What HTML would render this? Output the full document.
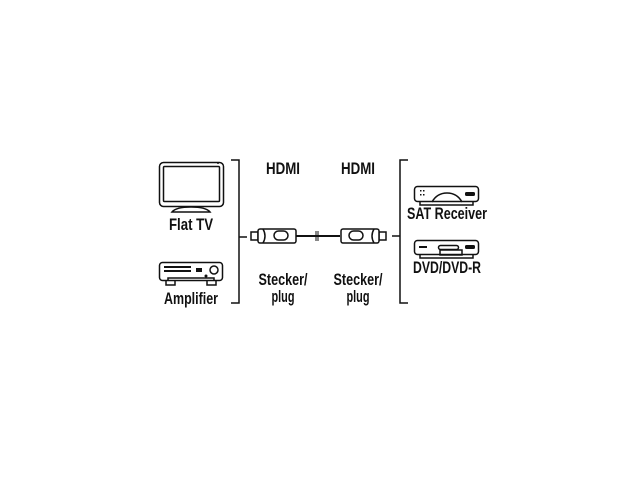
<!DOCTYPE html>
<html><head><style>
html,body{margin:0;padding:0;background:#fff;width:640px;height:480px;overflow:hidden}
text{font-family:"Liberation Sans Narrow","Liberation Sans",sans-serif;font-weight:bold;font-size:17px;fill:#111;text-anchor:middle}
</style></head><body>
<svg width="640" height="480" viewBox="0 0 640 480" xmlns="http://www.w3.org/2000/svg">
<g fill="none" stroke="#111" stroke-width="1.5">
<path d="M231 160 H239 V303 H231 M239 237 H247"/>
<path d="M408 160 H400 V303 H408 M400 236 H392"/>
<rect x="159.5" y="162.5" width="64" height="44" rx="4"/>
<rect x="163.5" y="166.5" width="56" height="35" rx="1"/>
<path d="M172 212 Q176 207 191 207 Q206 207 210 212 Z" fill="#fff"/>
<rect x="159.5" y="262.5" width="63" height="18" rx="3"/>
<path d="M166 281 V285 H175 V281 M207 281 V285 H216 V281"/>
<path d="M168 281 V278 H214 V281"/>
<circle cx="214" cy="270" r="4"/>
<rect x="414.5" y="186.5" width="64" height="15" rx="3"/>
<path d="M420 202 V205 H473 V202"/>
<path d="M432 202 Q437 193 447 193 Q457 193 462 202"/>
<rect x="414.5" y="240.5" width="64" height="14" rx="3"/>
<path d="M420 255 V258 H473 V255"/>
<rect x="438.5" y="245.5" width="20" height="4" rx="2"/>
<rect x="440" y="250" width="22" height="5"/>
</g>
<g fill="#111">
<rect x="196" y="268" width="6" height="4"/>
<circle cx="206" cy="276" r="1.5"/>
<rect x="164" y="266" width="27" height="2"/>
<rect x="164" y="270" width="27" height="2"/>
<rect x="465" y="192" width="10" height="4" rx="1.5"/>
<rect x="420" y="190" width="1.5" height="1.5"/><rect x="423" y="190" width="1.5" height="1.5"/>
<rect x="420" y="194" width="1.5" height="1.5"/><rect x="423" y="194" width="1.5" height="1.5"/>
<rect x="465" y="245" width="10" height="4" rx="1.5"/>
<rect x="419" y="246" width="8" height="2"/>
<circle cx="218" cy="163" r="1"/>
</g>
<g stroke="#111" stroke-width="1.5" fill="#fff">
<line x1="296" y1="236" x2="340" y2="236" stroke-width="2"/>
<line x1="316" y1="231" x2="316" y2="241" stroke-width="1"/>
<line x1="318" y1="231" x2="318" y2="241" stroke-width="1"/>
<rect x="251" y="232" width="7" height="8"/>
<rect x="258" y="229" width="38" height="14" rx="2"/>
<rect x="274" y="231" width="14" height="9" rx="4.5"/>
<path d="M263 229 Q267 236 263 243" fill="none"/>
<rect x="379" y="232" width="7" height="8"/>
<rect x="341" y="229" width="38" height="14" rx="2"/>
<rect x="349" y="231" width="14" height="9" rx="4.5"/>
<path d="M374 229 Q370 236 374 243" fill="none"/>
</g>
<text x="283" y="174" textLength="34" lengthAdjust="spacingAndGlyphs">HDMI</text>
<text x="358" y="174" textLength="34" lengthAdjust="spacingAndGlyphs">HDMI</text>
<text x="191" y="230" textLength="44" lengthAdjust="spacingAndGlyphs">Flat TV</text>
<text x="191" y="304" textLength="54" lengthAdjust="spacingAndGlyphs">Amplifier</text>
<text x="283" y="285" textLength="49" lengthAdjust="spacingAndGlyphs">Stecker/</text>
<text x="283" y="302" textLength="23" lengthAdjust="spacingAndGlyphs">plug</text>
<text x="358" y="285" textLength="49" lengthAdjust="spacingAndGlyphs">Stecker/</text>
<text x="358" y="302" textLength="23" lengthAdjust="spacingAndGlyphs">plug</text>
<text x="447" y="219" textLength="80" lengthAdjust="spacingAndGlyphs">SAT Receiver</text>
<text x="447" y="273" textLength="68" lengthAdjust="spacingAndGlyphs">DVD/DVD-R</text>
</svg>
</body></html>
